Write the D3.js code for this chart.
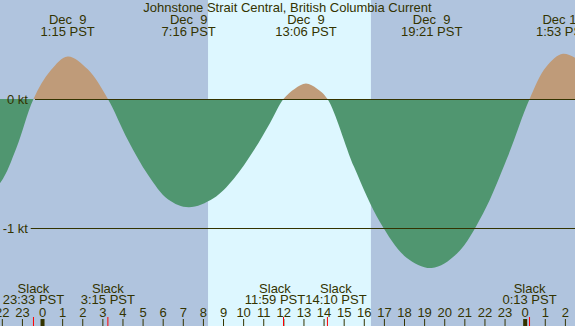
<!DOCTYPE html>
<html>
<head>
  <meta charset="UTF-8" />
  <title>Johnstone Strait Central Current</title>
  <script src="https://d3js.org/d3.v7.min.js"></script>
  <style>
    body { margin: 0; background: #fff; }
    svg { display: block; font-family: "Liberation Sans", Arial, sans-serif; font-size: 13px; }
    text { fill: #333300; white-space: pre; }
  </style>
</head>
<body>
  <div id="chart"></div>
  <script>
    const width = 575, height = 326;

    // hours relative to Dec 9 00:00 PST
    const windowStart = -2.115, windowEnd = 26.478;
    const sunrise = 8.23, sunset = 16.33;

    // current speed (kt, + flood / - ebb)
    const curveHours = [-3.5, -2.1, -1.3, -0.45, 0.4, 1.25, 2.25, 3.25, 4.25, 5.25, 6.25, 7.27, 8.5, 9.5, 10.5, 11.3, 11.98,
                        12.55, 13.1, 13.65, 14.17, 15.5, 16.8, 18.1, 19.35, 20.6, 21.9, 23.1, 24.22, 25.05, 25.88, 26.7];
    const curveKt    = [-0.86, -0.65, -0.38, 0, 0.22, 0.33, 0.23, 0, -0.32, -0.59, -0.78, -0.84, -0.77, -0.62, -0.40, -0.19, 0,
                        0.08, 0.12, 0.08, 0, -0.53, -0.96, -1.23, -1.31, -1.20, -0.89, -0.46, 0, 0.25, 0.35, 0.30];

    // max flood / max ebb events
    const maxHours = [1.25, 7.267, 13.1, 19.35, 25.883];
    const maxDates = ["Dec  9", "Dec  9", "Dec  9", "Dec  9", "Dec 10"];
    const maxTimes = ["1:15 PST", "7:16 PST", "13:06 PST", "19:21 PST", "1:53 PST"];

    // slack events
    const slackHours = [-0.45, 3.25, 11.983, 14.167, 24.217];
    const slackTimes = ["23:33 PST", "3:15 PST", "11:59 PST", "14:10 PST", "0:13 PST"];

    const ktTicks = [0, -1];
    const ktLabels = ["0 kt", "-1 kt"];

    const x = d3.scaleLinear().domain([windowStart, windowEnd]).range([0, width]);
    const y = d3.scaleLinear().domain([0, -1]).range([99, 228]);

    const svg = d3.select('#chart').append('svg')
      .attr('width', width).attr('height', height);

    // night / day background
    svg.append('rect').attr('width', width).attr('height', height).attr('fill', '#b0c4de');
    svg.append('rect')
      .attr('x', x(sunrise)).attr('width', x(sunset) - x(sunrise))
      .attr('y', 0).attr('height', height).attr('fill', '#ddf7ff');

    // clip regions above / below the zero line
    const defs = svg.append('defs');
    defs.append('clipPath').attr('id', 'above').append('rect')
      .attr('x', 0).attr('y', 0).attr('width', width).attr('height', y(0));
    defs.append('clipPath').attr('id', 'below').append('rect')
      .attr('x', 0).attr('y', y(0)).attr('width', width).attr('height', height - y(0));

    const pts = curveHours.map((h, i) => [h, curveKt[i]]);
    const area = d3.area()
      .x(d => x(d[0])).y0(y(0)).y1(d => y(d[1]))
      .curve(d3.curveCatmullRom.alpha(0.5));

    svg.append('path').datum(pts).attr('d', area)
      .attr('fill', '#bf9b79').attr('clip-path', 'url(#above)');
    svg.append('path').datum(pts).attr('d', area)
      .attr('fill', '#509670').attr('clip-path', 'url(#below)');

    // kt labels and lines
    ktTicks.forEach((v, i) => {
      const t = svg.append('text').attr('x', 28).attr('y', y(v) + 5)
        .attr('text-anchor', 'end').text(ktLabels[i]);
      const left = t.node().getBBox().x;
      svg.append('line')
        .attr('x1', left + 28).attr('x2', width)
        .attr('y1', y(v) + 0.5).attr('y2', y(v) + 0.5)
        .attr('stroke', '#333300').attr('stroke-width', 1);
    });

    // title
    svg.append('text').attr('x', width / 2).attr('y', 12).attr('text-anchor', 'middle')
      .text('Johnstone Strait Central, British Columbia Current');

    // max labels on top
    maxHours.forEach((h, i) => {
      svg.append('text').attr('x', x(h)).attr('y', 24.3).attr('text-anchor', 'middle').text(maxDates[i]);
      svg.append('text').attr('x', x(h)).attr('y', 36).attr('text-anchor', 'middle').text(maxTimes[i]);
    });

    // slack labels at the bottom, pushed apart when they overlap
    const slack = slackHours.map((h, i) => {
      const g = svg.append('g');
      g.append('text').attr('y', 292.6).attr('text-anchor', 'middle').text('Slack');
      const t = g.append('text').attr('y', 304.3).attr('text-anchor', 'middle').text(slackTimes[i]);
      return { g, cx: x(h), w: t.node().getComputedTextLength() };
    });
    for (let i = 1; i < slack.length; i++) {
      const a = slack[i - 1], b = slack[i];
      const need = (a.w + b.w) / 2;
      const gap = b.cx - a.cx;
      if (gap < need) {
        const shift = (need - gap) / 2;
        a.cx -= shift; b.cx += shift;
      }
    }
    slack.forEach(s => s.g.selectAll('text').attr('x', s.cx));

    // hour axis
    const hours = d3.range(Math.ceil(windowStart), Math.floor(windowEnd) + 1);
    hours.forEach(h => {
      const hx = x(h);
      svg.append('text').attr('x', hx).attr('y', 316.6).attr('text-anchor', 'middle')
        .text(((h % 24) + 24) % 24);
      const midnight = ((h % 24) + 24) % 24 === 0;
      svg.append('line')
        .attr('x1', hx).attr('x2', hx).attr('y1', 319).attr('y2', height)
        .attr('stroke', '#333300').attr('stroke-width', midnight ? 4 : 1);
    });

    // slack markers
    slackHours.forEach(h => {
      svg.append('line')
        .attr('x1', x(h)).attr('x2', x(h)).attr('y1', 317).attr('y2', height)
        .attr('stroke', '#ff0000').attr('stroke-width', 1);
    });
  </script>
</body>
</html>
